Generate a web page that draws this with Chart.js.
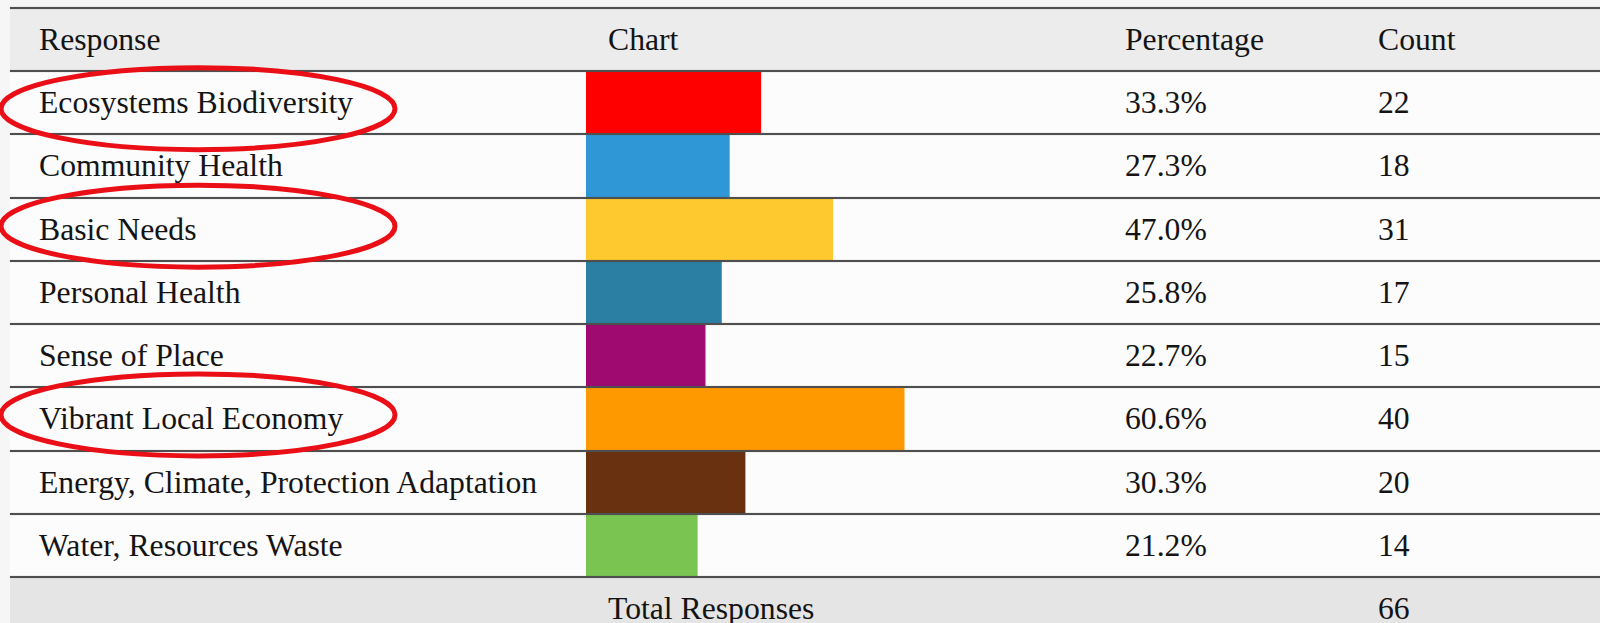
<!DOCTYPE html>
<html>
<head>
<meta charset="utf-8">
<script src="https://cdn.jsdelivr.net/npm/chart.js@4/dist/chart.umd.min.js"></script>
<style>
  html, body { margin: 0; padding: 0; }
  body { width: 1600px; height: 623px; overflow: hidden; background: #f6f6f6; position: relative;
         font-family: "Liberation Serif", "Times New Roman", serif; color: #141414; }
  .band { position: absolute; left: 10px; right: 0; }
  .rule { position: absolute; left: 10px; width: 1590px; height: 2px; background: #4f4f4f; z-index: 5;
          box-shadow: 0 0 1px rgba(60,60,60,0.6); }
  .cell { position: absolute; font-size: 31.7px; white-space: nowrap; z-index: 4; }
  #barWrap { position: absolute; left: 586px; top: 71px; width: 525px; height: 506px; z-index: 3; }
  svg.marks { position: absolute; left: 0; top: 0; z-index: 6; pointer-events: none; }
</style>
</head>
<body>
<div id="table"></div>
<div id="barWrap"><canvas id="bars" width="525" height="506"></canvas></div>
<svg class="marks" width="1600" height="623" id="marks"></svg>
<script>
// Survey responses
const responses = [
  "Ecosystems Biodiversity",
  "Community Health",
  "Basic Needs",
  "Personal Health",
  "Sense of Place",
  "Vibrant Local Economy",
  "Energy, Climate, Protection Adaptation",
  "Water, Resources Waste"
];
const percentages = [33.3, 27.3, 47.0, 25.8, 22.7, 60.6, 30.3, 21.2];
const counts = [22, 18, 31, 17, 15, 40, 20, 14];
const totalResponses = 66;
const headers = ["Response", "Chart", "Percentage", "Count"];
const barColors = ["#ff0000", "#3097d6", "#fdc92e", "#2b7fa3", "#9e0a70", "#ff9900", "#6a3110", "#7ac452"];
// rows that are circled
const highlighted = ["Ecosystems Biodiversity", "Basic Needs", "Vibrant Local Economy"];

// table geometry
const headTop = 8, bodyTop = 71, rowH = 63.25;
const colX = { response: 39, chart: 608, pct: 1125, count: 1378 };

const table = document.getElementById('table');
function add(cls, style, text) {
  const d = document.createElement('div');
  d.className = cls;
  Object.assign(d.style, style);
  if (text !== undefined) d.textContent = text;
  table.appendChild(d);
  return d;
}

// backgrounds
add('band', { top: headTop + 'px', height: (bodyTop - headTop) + 'px', background: '#ececec' });
add('band', { top: bodyTop + 'px', height: (rowH * responses.length) + 'px', background: '#fcfcfc' });
const footTop = bodyTop + rowH * responses.length;
add('band', { top: footTop + 'px', height: (623 - footTop) + 'px', background: '#e5e5e5' });

// horizontal rules
add('rule', { top: (headTop - 1) + 'px' });
for (let i = 0; i <= responses.length; i++) {
  add('rule', { top: (bodyTop + rowH * i - 1) + 'px' });
}

function textRow(top, h, items) {
  items.forEach(([x, t]) => add('cell', { left: x + 'px', top: top + 'px', height: h + 'px', lineHeight: h + 'px' }, t));
}
textRow(headTop, bodyTop - headTop, [[colX.response, headers[0]], [colX.chart, headers[1]], [colX.pct, headers[2]], [colX.count, headers[3]]]);
responses.forEach((r, i) => {
  textRow(bodyTop + rowH * i, rowH, [[colX.response, r], [colX.pct, percentages[i].toFixed(1) + '%'], [colX.count, String(counts[i])]]);
});
textRow(footTop, rowH, [[colX.chart, "Total Responses"], [colX.count, String(totalResponses)]]);

// red circles around the highlighted responses
const svg = document.getElementById('marks');
const ellipseOffsets = { "Ecosystems Biodiversity": 6, "Basic Needs": -3, "Vibrant Local Economy": -4 };
highlighted.forEach(name => {
  const i = responses.indexOf(name);
  const cy = bodyTop + rowH * (i + 0.5) + (ellipseOffsets[name] || 0);
  const e = document.createElementNS('http://www.w3.org/2000/svg', 'ellipse');
  e.setAttribute('cx', 198); e.setAttribute('cy', cy);
  e.setAttribute('rx', 197); e.setAttribute('ry', 41);
  e.setAttribute('fill', 'none'); e.setAttribute('stroke', '#ea0f16'); e.setAttribute('stroke-width', 5);
  svg.appendChild(e);
});

// bars
new Chart(document.getElementById('bars'), {
  type: 'bar',
  data: {
    labels: responses,
    datasets: [{
      data: percentages,
      backgroundColor: barColors,
      borderWidth: 0,
      barPercentage: 1,
      categoryPercentage: 1
    }]
  },
  options: {
    indexAxis: 'y',
    responsive: false,
    animation: false,
    devicePixelRatio: 1,
    layout: { padding: 0 },
    plugins: { legend: { display: false }, tooltip: { enabled: false } },
    scales: {
      x: { display: false, min: 0, max: 100 },
      y: { display: false }
    }
  }
});
</script>
</body>
</html>
